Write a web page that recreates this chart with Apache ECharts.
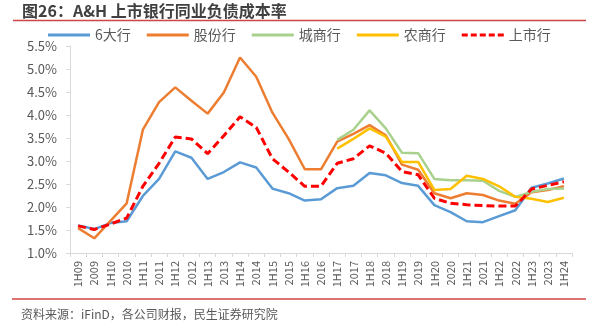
<!DOCTYPE html>
<html>
<head>
<meta charset="utf-8">
<script src="https://cdn.jsdelivr.net/npm/echarts@6/dist/echarts.min.js"></script>
<style>
  html, body { margin: 0; padding: 0; background: #fff; }
  #chart { width: 598px; height: 333px; }
</style>
</head>
<body>
<div id="chart"></div>
<script>
// Reporting periods: half-year (1Hyy) and full-year results
const periods = ['1H09','2009','1H10','2010','1H11','2011','1H12','2012','1H13','2013',
  '1H14','2014','1H15','2015','1H16','2016','1H17','2017','1H18','2018',
  '1H19','2019','1H20','2020','1H21','2021','1H22','2022','1H23','2023','1H24'];

// Interbank liability cost ratio (%) by bank group
const bigSix = [1.60,1.52,1.65,1.69,2.24,2.61,3.21,3.07,2.61,2.76,
  2.97,2.86,2.40,2.30,2.14,2.17,2.41,2.46,2.74,2.69,
  2.52,2.46,2.04,1.89,1.69,1.67,1.80,1.93,2.42,2.51,2.62];
const jointStock = [1.54,1.32,1.70,2.08,3.68,4.28,4.60,4.31,4.03,4.49,
  5.25,4.83,4.05,3.48,2.82,2.82,3.42,3.59,3.78,3.56,
  2.92,2.81,2.30,2.19,2.30,2.26,2.14,2.07,2.32,2.37,2.45];
const cityBanks = [null,null,null,null,null,null,null,null,null,null,
  null,null,null,null,null,null,3.46,3.68,4.10,3.71,
  3.18,3.17,2.61,2.58,2.58,2.57,2.35,2.22,2.33,2.39,2.40];
const ruralBanks = [null,null,null,null,null,null,null,null,null,null,
  null,null,null,null,null,null,3.27,3.48,3.71,3.53,
  2.98,2.98,2.37,2.39,2.68,2.61,2.45,2.22,2.18,2.11,2.20];
const listedBanks = [1.59,1.51,1.63,1.76,2.45,2.95,3.52,3.48,3.16,3.55,
  3.96,3.73,3.05,2.76,2.45,2.45,2.95,3.05,3.33,3.17,
  2.77,2.70,2.19,2.08,2.05,2.03,2.02,2.02,2.39,2.47,2.55];

const seriesNames = ['6大行','股份行','城商行','农商行','上市行'];
const seriesData = [bigSix, jointStock, cityBanks, ruralBanks, listedBanks];
const seriesColors = ['#5B9BD5','#ED7D31','#A9D18E','#FFC000','#FF0000'];

// Legend keys: solid bar for the bank groups, dashed bar for the listed-bank average
const SOLID_KEY = 'path://M0,0h42v3H0z';
const DASHED_KEY = 'path://M0,0h6v3H0z M9,0h6v3H9z M18,0h6v3h-6z M27,0h6v3h-6z M36,0h6v3h-6z';

const FONT = '"Noto Sans CJK SC", "Liberation Sans", sans-serif';
const chart = echarts.init(document.getElementById('chart'), null, { renderer: 'canvas' });

const series = seriesNames.map((name, i) => ({
  name: name,
  type: 'line',
  data: seriesData[i],
  symbol: 'none',
  connectNulls: false,
  lineStyle: i === 4
    ? { color: seriesColors[i], width: 3, type: [8, 4] }
    : { color: seriesColors[i], width: 2.5 },
  itemStyle: { color: seriesColors[i] },
  z: i === 4 ? 5 : 2
}));

chart.setOption({
  animation: false,
  backgroundColor: '#fff',
  textStyle: { fontFamily: FONT },
  graphic: [
    {
      type: 'text', left: 22, top: 3,
      style: { text: '图26：A&H 上市银行同业负债成本率', font: 'bold 16px ' + FONT, fill: '#404040' }
    },
    {
      type: 'line', shape: { x1: 13, y1: 20.5, x2: 586, y2: 20.5 },
      style: { stroke: '#D04545', lineWidth: 1.5 }
    },
    {
      type: 'line', shape: { x1: 12, y1: 299, x2: 586, y2: 299 },
      style: { stroke: '#D04545', lineWidth: 1.5 }
    },
    {
      type: 'text', left: 21, top: 308,
      style: { text: '资料来源：iFinD，各公司财报，民生证券研究院', font: '12px ' + FONT, fill: '#595959' }
    }
  ],
  legend: {
    top: 23,
    left: 43,
    itemWidth: 42,
    itemHeight: 3,
    itemGap: 16,
    symbolKeepAspect: false,
    textStyle: { fontSize: 14, color: '#595959', fontFamily: FONT },
    data: seriesNames.map((n, i) => ({
      name: n,
      icon: i === 4 ? DASHED_KEY : SOLID_KEY,
      itemStyle: { color: seriesColors[i] }
    }))
  },
  grid: { left: 70, right: 26, top: 46, bottom: 80, containLabel: false },
  xAxis: {
    type: 'category',
    data: periods,
    boundaryGap: true,
    axisLine: { lineStyle: { color: '#D9D9D9', width: 1 } },
    axisTick: { show: true, length: 4, lineStyle: { color: '#D9D9D9' } },
    axisLabel: { rotate: 90, fontSize: 11, color: '#595959', margin: 8, interval: 0, fontFamily: FONT }
  },
  yAxis: {
    type: 'value',
    min: 1.0,
    max: 5.5,
    interval: 0.5,
    axisLine: { show: true, lineStyle: { color: '#D9D9D9', width: 1 } },
    axisTick: { show: true, length: 4, lineStyle: { color: '#D9D9D9' } },
    splitLine: { show: false },
    axisLabel: {
      fontSize: 13, color: '#595959', margin: 13, fontFamily: FONT,
      formatter: v => v.toFixed(1) + '%'
    }
  },
  series: series
});
</script>
</body>
</html>
